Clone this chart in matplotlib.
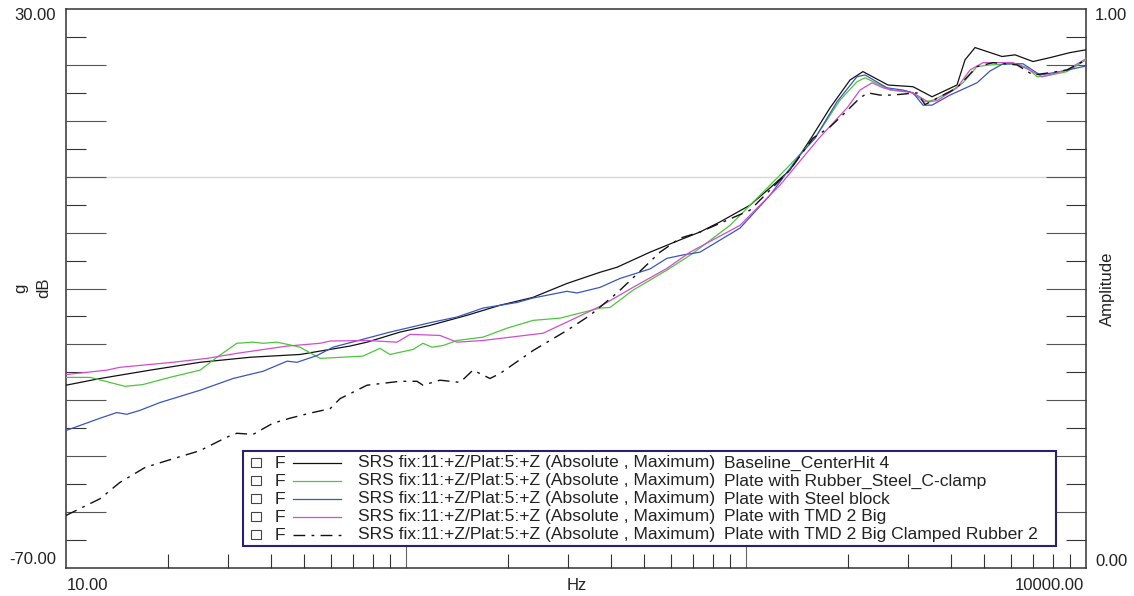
import matplotlib
matplotlib.use('Agg')
import matplotlib.pyplot as plt
from matplotlib.patches import Rectangle
from matplotlib.lines import Line2D
from matplotlib.ticker import FixedLocator

plt.rcParams['font.family'] = ['Liberation Sans', 'DejaVu Sans']

# ---- data (Hz, dB) ----
baseline_hz = [10, 12.6, 17.7, 24.8, 34.8, 48.8, 68.4, 76.8, 96, 117.7, 151, 189, 236, 297.5,
               372, 417.5, 522, 640, 732, 838, 1027, 1177, 1347, 1543, 1766, 2023, 2208, 2616,
               3099, 3525, 4174, 4407, 4717, 5663, 6184, 6985, 7838, 8974, 10000]
baseline_db = [-37.3, -36.1, -34.6, -33.2, -32.3, -31.8, -30.3, -29.6, -27.8, -26.6, -24.8, -23.0,
               -21.6, -19.1, -17.1, -16.2, -13.5, -11.3, -9.9, -8.1, -5.1, -2.0, 1.2, 6.6, 12.3,
               17.3, 18.8, 16.4, 16.1, 14.3, 16.4, 20.9, 23.1, 21.5, 21.8, 20.6, 21.3, 22.2, 22.7]

rubber_hz = [10, 11.8, 14.9, 16.8, 20.2, 24.8, 27.8, 31.8, 35.5, 38.0, 41.7, 46.5, 48.8, 55.9,
             74.7, 83.8, 89.7, 104.9, 112.2, 119.3, 128.5, 141.3, 168.5, 198.2, 236.4, 283.8,
             372.1, 398.1, 465.2, 585.6, 698.4, 897, 1100, 1347, 1596, 1890, 2121, 2239, 2478,
             2652, 3037, 3362, 3548, 3981, 4347, 4781, 5218, 6269, 6708, 7177, 7474, 8794, 10000]
rubber_db = [-35.9, -35.9, -37.5, -37.2, -35.9, -34.6, -32.3, -29.8, -29.6, -29.8, -29.6, -30.2,
             -30.5, -32.5, -32.1, -30.7, -31.8, -30.9, -29.8, -30.5, -30.2, -29.3, -28.7, -27.1,
             -25.7, -25.3, -23.5, -23.4, -20.3, -16.7, -13.7, -8.7, -3.3, 2.1, 6.9, 13.7, 17.0,
             17.7, 16.4, 15.5, 15.2, 13.4, 13.7, 15.2, 16.8, 19.7, 20.0, 20.2, 19.5, 17.9, 17.9,
             18.8, 20.9]

steel_hz = [10, 11.0, 12.6, 14.1, 15.1, 16.5, 18.9, 24.8, 31.0, 38.0, 44.7, 47.8, 54.7, 61.0,
            89.7, 120.1, 141.3, 168.5, 212.1, 236.4, 297.5, 318.4, 372.1, 426.1, 522, 585.6,
            652.7, 732, 960, 1177, 1442, 1596, 1852, 2121, 2239, 2598, 2896, 3099, 3316, 3525,
            3981, 4781, 5218, 5701, 6528, 7324, 8385, 10000]
steel_db = [-45.4, -44.5, -43.2, -42.2, -42.5, -41.8, -40.4, -38.2, -36.1, -34.8, -33.0, -33.2,
            -32.0, -30.5, -27.8, -26.0, -25.1, -23.5, -22.5, -21.7, -20.5, -20.8, -19.8, -18.2,
            -16.5, -14.6, -14.0, -13.5, -9.2, -3.3, 3.9, 6.9, 13.4, 17.9, 18.2, 15.9, 15.5, 15.0,
            12.8, 12.8, 14.6, 16.8, 18.9, 20.2, 20.2, 18.2, 18.8, 19.8]

tmd_hz = [10, 13.2, 14.4, 20.6, 26.0, 31.8, 44.7, 55.9, 59.8, 76.8, 94.1, 102.8, 125.9, 141.3,
          168.5, 252.9, 297.5, 372.1, 465.2, 585.6, 684.4, 960, 1259, 1651, 1982, 2164, 2348,
          2529, 2707, 3099, 3431, 3646, 4174, 4560, 4980, 6101, 6708, 7424, 8794, 10000]
tmd_db = [-35.4, -34.6, -34.1, -33.2, -32.5, -31.6, -30.3, -29.8, -29.4, -29.3, -29.6, -28.2,
          -28.4, -29.6, -29.3, -28.0, -26.0, -23.2, -19.8, -16.4, -13.5, -8.7, -1.5, 7.1, 12.3,
          15.5, 16.8, 15.9, 15.5, 15.0, 13.4, 13.6, 15.9, 19.1, 20.4, 20.4, 19.3, 17.9, 19.1, 21.1]

clamped_hz = [10, 12.6, 14.4, 17.1, 19.8, 24.8, 29.7, 31.8, 35.5, 40.6, 45.6, 52.2, 59.8, 64.0,
              76.8, 96, 107.7, 112.2, 125.9, 144.2, 157.4, 176.6, 189.1, 236.4, 297.5, 347.7,
              417.5, 497.9, 558.6, 640, 732, 1027, 1347, 1574, 1766, 1929, 2164, 2284, 2478,
              2688, 3184, 3362, 4174, 4781, 5326, 6269, 6985, 7838, 8794, 10000]
clamped_db = [-60.6, -57.6, -54.7, -52.0, -50.8, -49.0, -46.6, -45.9, -46.1, -44.1, -43.2, -42.3,
              -41.5, -39.7, -37.3, -36.6, -36.6, -37.3, -36.4, -36.8, -34.6, -36.1, -35.2, -31.1,
              -27.5, -24.8, -20.8, -16.4, -13.5, -11.0, -9.9, -6.0, 1.2, 6.9, 8.9, 11.1, 14.1,
              15.0, 14.6, 14.6, 15.0, 12.9, 15.9, 19.7, 20.4, 20.0, 18.2, 18.6, 19.1, 20.9]

prefix = 'SRS fix:11:+Z/Plat:5:+Z (Absolute , Maximum)'
names = ['Baseline_CenterHit 4', 'Plate with Rubber_Steel_C-clamp', 'Plate with Steel block',
         'Plate with TMD 2 Big', 'Plate with TMD 2 Big Clamped Rubber 2']
colors = ['#111111', '#4cc63c', '#3a55c0', '#d24ccf', '#111111']

W, H = 1134, 596
def fx(px): return px / W
def fy(py): return 1 - py / H

fig = plt.figure(figsize=(W / 100, H / 100), dpi=100)
ax = fig.add_axes([fx(66), fy(568), (1086 - 66) / W, (568 - 9) / H])

series = [(baseline_hz, baseline_db), (rubber_hz, rubber_db), (steel_hz, steel_db),
          (tmd_hz, tmd_db), (clamped_hz, clamped_db)]
styles = []
for i, (hz, db) in enumerate(series):
    if i == 4:
        kw = dict(color=colors[i], lw=1.0, dashes=(8.5, 4.5, 2, 4.5))
    else:
        kw = dict(color=colors[i], lw=0.9)
    styles.append(kw)
    ax.plot(hz, db, **kw, zorder=3)

ax.axhline(0, color='#d8d8d8', lw=1.0, zorder=1)

ax.set_xscale('log')
ax.set_xlim(10, 10000)
ax.set_ylim(-70, 30)

ax.yaxis.set_major_locator(FixedLocator(list(range(-60, 30, 10))))
ax.yaxis.set_minor_locator(FixedLocator(list(range(-65, 30, 10))))
ax.xaxis.set_major_locator(FixedLocator([100, 1000]))
minors = [m * d for d in (10, 100, 1000) for m in range(2, 10)]
ax.xaxis.set_minor_locator(FixedLocator(minors))

ax.tick_params(axis='y', which='major', direction='in', length=28.8, width=0.8,
               color='#555555', left=True, right=True, labelleft=False)
ax.tick_params(axis='y', which='minor', direction='in', length=14.4, width=0.8,
               color='#333333', left=True, right=True)
ax.tick_params(axis='x', which='major', direction='in', length=15.8, width=0.8,
               color='#666666', labelbottom=False)
ax.tick_params(axis='x', which='minor', direction='in', length=10, width=0.8,
               color='#333333', labelbottom=False)
for s in ax.spines.values():
    s.set_color('#333333')
    s.set_linewidth(1.1)

fs = 12
lfs = 12.6
# axis end labels
fig.text(fx(56), fy(16), '30.00', ha='right', va='center', fontsize=fs, color='#222222')
fig.text(fx(56), fy(560), '-70.00', ha='right', va='center', fontsize=fs, color='#222222')
fig.text(fx(1095), fy(16), '1.00', ha='left', va='center', fontsize=fs, color='#222222')
fig.text(fx(1095), fy(561), '0.00', ha='left', va='center', fontsize=fs, color='#222222')
fig.text(fx(67), fy(585), '10.00', ha='left', va='center', fontsize=fs, color='#222222')
fig.text(fx(1084), fy(586), '10000.00', ha='right', va='center', fontsize=fs, color='#222222')
fig.text(fx(577), fy(585), 'Hz', ha='center', va='center', fontsize=fs, color='#222222')
fig.text(fx(21), fy(288), 'g', ha='center', va='center', rotation=90, fontsize=fs, color='#222222')
fig.text(fx(44), fy(288), 'dB', ha='center', va='center', rotation=90, fontsize=fs, color='#222222')
fig.text(fx(1107), fy(289), 'Amplitude', ha='center', va='center', rotation=90, fontsize=fs,
         color='#222222')

# legend box
fig.add_artist(Rectangle((fx(243), fy(546)), (1056 - 243) / W, (546 - 451) / H,
                         transform=fig.transFigure, facecolor='white', edgecolor='#2e1f6e',
                         lw=1.5, zorder=5))
for i in range(5):
    yrow = 463 + 18 * i
    fig.add_artist(Rectangle((fx(251), fy(yrow + 4)), 10 / W, 9 / H, transform=fig.transFigure,
                             facecolor='white', edgecolor='#444444', lw=0.8, zorder=6))
    fig.text(fx(275), fy(yrow), 'F', ha='left', va='center', fontsize=lfs, color='#222222', zorder=6)
    fig.add_artist(Line2D([fx(293), fx(341)], [fy(yrow), fy(yrow)], transform=fig.transFigure,
                          zorder=6, **styles[i]))
    fig.text(fx(358), fy(yrow), prefix, ha='left', va='center', fontsize=lfs, color='#222222',
             zorder=6)
    fig.text(fx(724), fy(yrow), names[i], ha='left', va='center', fontsize=lfs, color='#222222',
             zorder=6)

fig.savefig('out.png', dpi=100)
